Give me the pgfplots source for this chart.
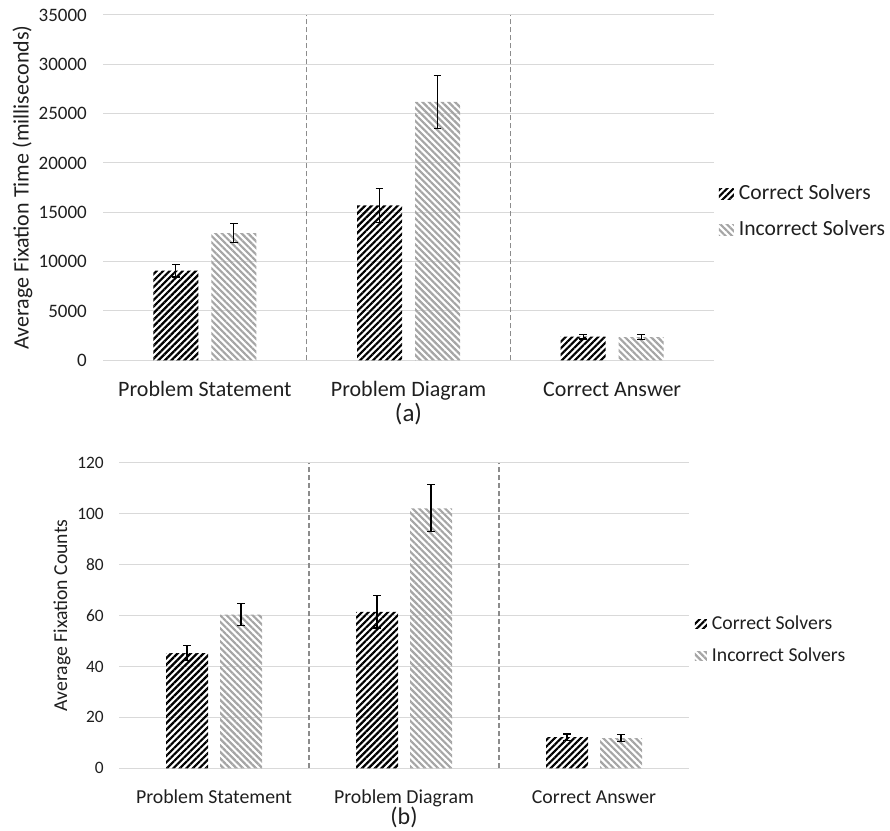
\documentclass[border=0pt]{standalone}
\usepackage{fontspec}
\setmainfont{Carlito}
\usepackage{pgfplots}
\usepackage{pgfplotstable}
\pgfplotsset{compat=1.18}
\usetikzlibrary{patterns.meta}

\definecolor{gridc}{HTML}{D9D9D9}
\definecolor{sepc}{HTML}{8C8C8C}
\definecolor{grayb}{HTML}{A5A5A5}
\definecolor{txt}{HTML}{1F1F1F}

\pgfplotstableread{
x c ce i ie
0 9100 650 12900 1000
1 15700 1750 26200 2700
2 2400 250 2350 250
}\dataA
\pgfplotstableread{
x c ce i ie
0 45.2 3.0 60.3 4.3
1 61.4 6.3 102.1 9.2
2 12.2 1.3 11.8 1.4
}\dataB

\tikzset{
 pc/.style={draw=none, pattern={Lines[angle=45,distance=4.6bp,line width=2.2bp]}, pattern color=black},
 pi/.style={draw=none, pattern={Lines[angle=-45,distance=4.6bp,line width=2.2bp]}, pattern color=grayb},
}

\pgfplotsset{
 common/.style={
  scale only axis, anchor=south west,
  xmin=-0.5, xmax=2.5, ymin=0,
  xtick={0,1,2}, xticklabels={Problem Statement, Problem Diagram, Correct Answer},
  axis line style={draw=none}, major tick length=0pt, tick style={draw=none},
  ymajorgrids, major grid style={gridc, line width=1bp},
  extra x ticks={0.5,1.5}, extra x tick labels={},
  extra x tick style={xmajorgrids=true, ymajorgrids=false, major grid style={sepc, dash pattern=on 5bp off 3bp, line width=1.2bp}},
  scaled y ticks=false,
  /pgf/number format/assume math mode=true,
  yticklabel style={/pgf/number format/fixed, /pgf/number format/1000 sep={}, anchor=east, inner sep=0pt, text=txt},
  xticklabel style={anchor=base, inner sep=0pt, text=txt},
  legend style={draw=none, fill=none, inner sep=0pt, outer sep=0pt, anchor=west, text=txt,
    /tikz/every odd column/.style={column sep=3bp}},
  legend cell align=left,
 },
 eb/.style={error bars/.cd, y dir=both, y explicit,
  error bar style={draw=black, line width=1.2bp, solid},
  error mark=-,
  error mark options={rotate=90, draw=black, fill=black, line width=1.2bp, mark size=3.8bp, solid}},
 legA/.style={legend image code/.code={\fill[##1] (0bp,-5bp) rectangle (15bp,6bp);}},
 legB/.style={legend image code/.code={\fill[##1] (0bp,-4bp) rectangle (12bp,5bp);}},
}

\begin{document}
\begin{tikzpicture}
\useasboundingbox (0,0) rectangle (890bp,831bp);
% ---------- (a) ----------
\begin{axis}[common,
  width=611bp, height=345.3bp, at={(103bp,470.7bp)},
  ybar=13bp, bar width=45bp,
  ymax=35000, ytick={0,5000,...,35000},
  yticklabel style={font=\fontsize{19bp}{22bp}\selectfont, xshift=-16bp},
  xticklabel style={font=\fontsize{22bp}{26bp}\selectfont, yshift=-36.5bp},
  ylabel={Average Fixation Time (milliseconds)},
  ylabel style={at={(axis description cs:-0.1318,0.5)}, anchor=center, font=\fontsize{22bp}{26bp}\selectfont, text=txt},
  xlabel={(a)},
  xlabel style={at={(axis description cs:0.5,0)}, anchor=center, yshift=-53.7bp, font=\fontsize{25bp}{30bp}\selectfont, text=txt},
  legend style={at={(axis description cs:1.008,0.4266)}, font=\fontsize{21.6bp}{26bp}\selectfont,
    nodes={text height=15bp, text depth=5bp, inner sep=2bp}, row sep=12bp},
]
\addplot[pc, legA, eb] table[x=x,y=c,y error=ce]{\dataA};
\addplot[pi, legA, eb] table[x=x,y=i,y error=ie]{\dataA};
\legend{Correct Solvers, Incorrect Solvers}
\end{axis}
% ---------- (b) ----------
\begin{axis}[common,
  width=570bp, height=305.6bp, at={(119bp,62.7bp)},
  ybar=12bp, bar width=42bp,
  ymax=120, ytick={0,20,...,120},
  yticklabel style={font=\fontsize{17.4bp}{21bp}\selectfont, xshift=-15bp},
  xticklabel style={font=\fontsize{19.8bp}{24bp}\selectfont, yshift=-35bp},
  ylabel={Average Fixation Counts},
  ylabel style={at={(axis description cs:-0.1,0.5)}, anchor=center, font=\fontsize{19.7bp}{24bp}\selectfont, text=txt},
  xlabel={(b)},
  xlabel style={at={(axis description cs:0.5,0)}, anchor=center, yshift=-49.5bp, font=\fontsize{24bp}{28bp}\selectfont, text=txt},
  legend style={at={(axis description cs:1.0105,0.4166)}, font=\fontsize{19.7bp}{24bp}\selectfont,
    nodes={text height=14bp, text depth=4bp, inner sep=2bp}, row sep=10bp},
]
\addplot[pc, legB, eb] table[x=x,y=c,y error=ce]{\dataB};
\addplot[pi, legB, eb] table[x=x,y=i,y error=ie]{\dataB};
\legend{Correct Solvers, Incorrect Solvers}
\end{axis}
\end{tikzpicture}
\end{document}
